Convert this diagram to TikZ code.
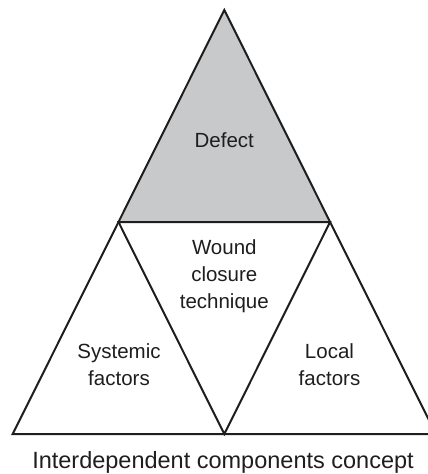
\documentclass[tikz,border=0pt]{standalone}
\usepackage{fontspec}
\setmainfont{Liberation Sans}
\usetikzlibrary{calc}
\definecolor{defgray}{RGB}{200,201,203}
\definecolor{inkc}{RGB}{30,30,30}
\begin{document}
\begin{tikzpicture}[x=1pt,y=-1pt,
  edge/.style={draw=inkc,line width=2pt,line join=miter},
  lbl/.style={text=inkc,font=\fontsize{20.5}{27}\selectfont,align=center,inner sep=0pt},
  captiontext/.style={text=inkc,font=\fontsize{23.5}{28}\selectfont,inner sep=0pt}]
\useasboundingbox (0,0) rectangle (428,474);
\clip (0,0) rectangle (428,474);
\coordinate (A) at (224.3,10);
\coordinate (L) at (12.7,434);
\coordinate (R) at (435.9,434);
\coordinate (ML) at ($(A)!0.5!(L)$);
\coordinate (MR) at ($(A)!0.5!(R)$);
\coordinate (MB) at ($(L)!0.5!(R)$);
\fill[defgray] (A) -- (ML) -- (MR) -- cycle;
\draw[edge] (A) -- (L) -- (R) -- cycle;
\draw[edge] (ML) -- (MR) -- (MB) -- cycle;
\node[lbl] (defect) at (224.3,140) {Defect};
\node[lbl] (wound) at (224.3,276) {Wound\\closure\\technique};
\node[lbl] (sys) at (119,365) {Systemic\\factors};
\node[lbl] (loc) at (329.5,365) {Local\\factors};
\node[captiontext] (caption) at (223,462) {Interdependent components concept};
\end{tikzpicture}
\end{document}
